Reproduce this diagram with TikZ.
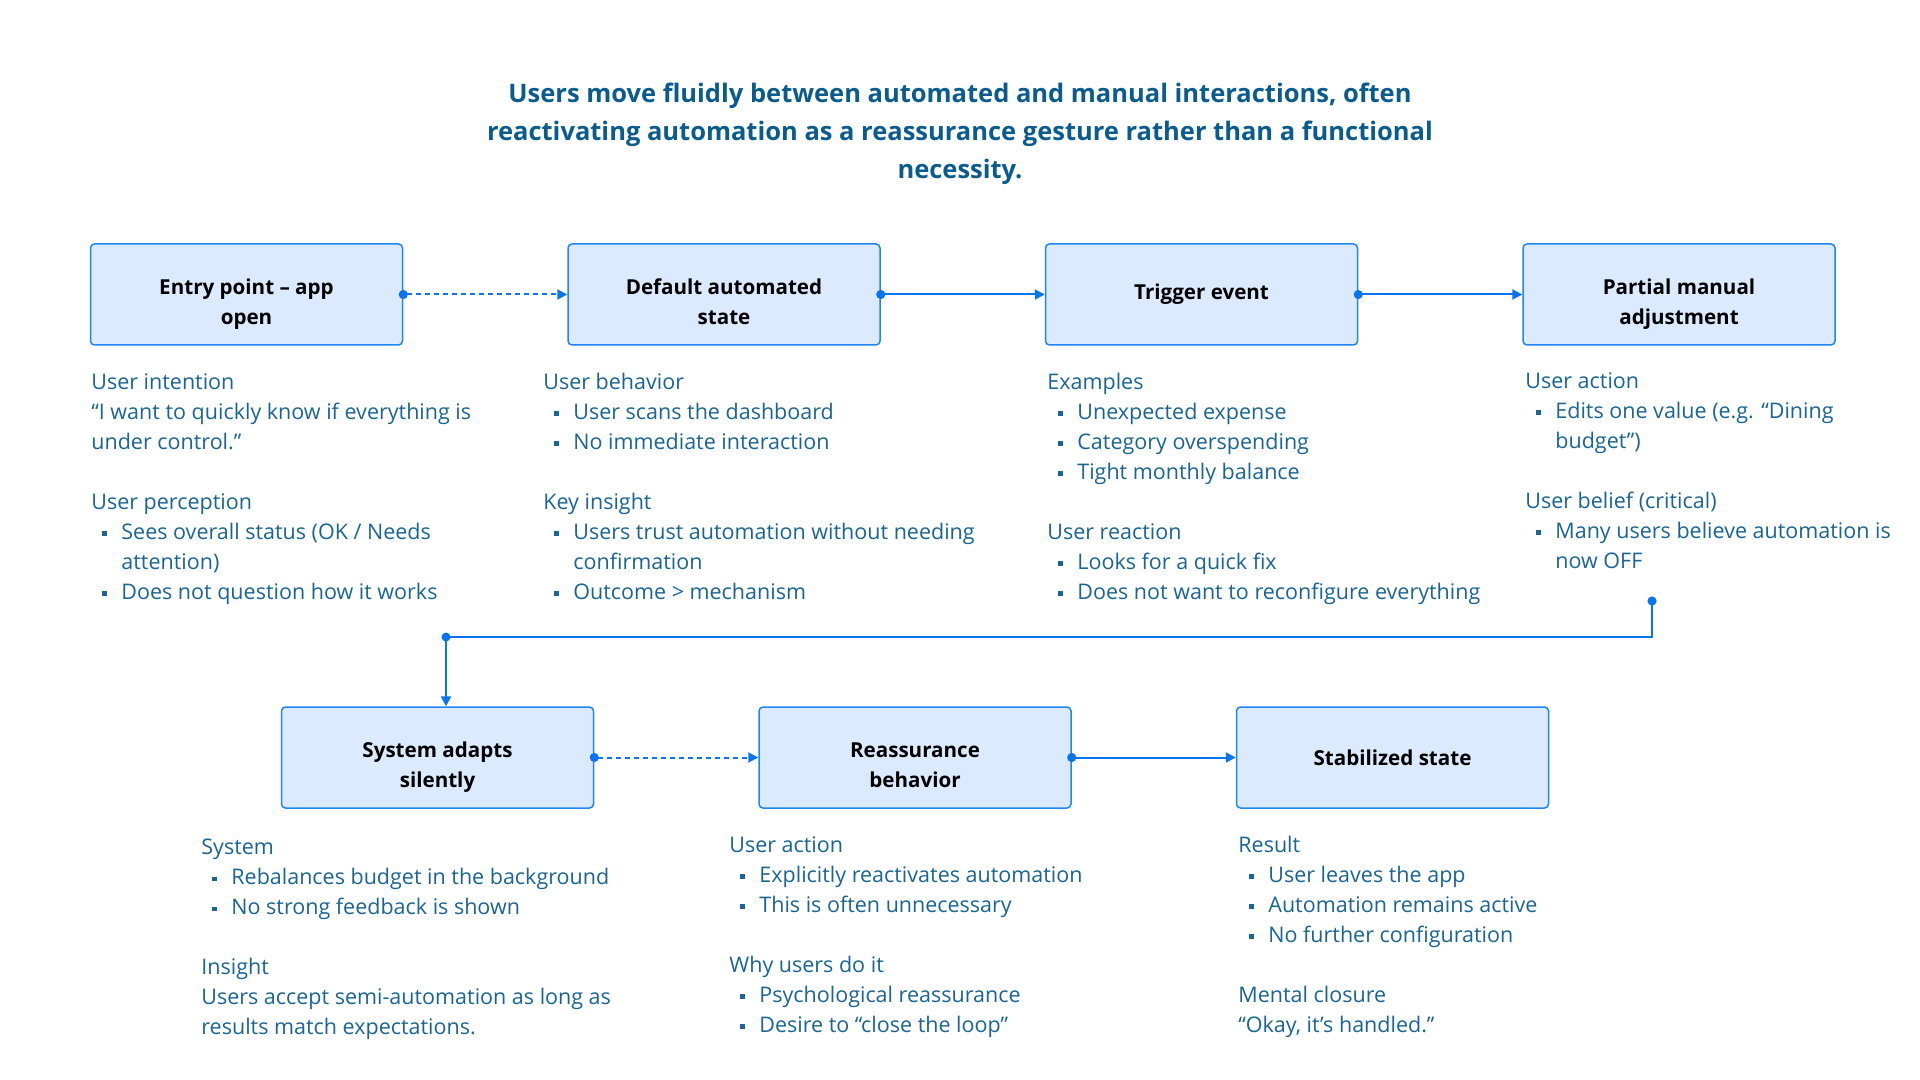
\documentclass[tikz,border=0pt]{standalone}
\usepackage{fontspec}
\setmainfont{Open Sans}
\usetikzlibrary{positioning}
\usetikzlibrary{arrows.meta}

\definecolor{headblue}{HTML}{0B5C8E}
\definecolor{noteblue}{HTML}{1B6592}
\definecolor{boxfill}{HTML}{DBEAFE}
\definecolor{boxline}{HTML}{2186F2}
\definecolor{linkblue}{HTML}{0A74F0}

\newcommand{\bul}{\makebox[15pt][l]{\hspace{5.5pt}\rule[1.8pt]{2.4pt}{2.4pt}}}
\newcommand{\cont}{\hspace*{15pt}}
\newcommand{\hi}{\rule{0pt}{18pt}}
\newcommand{\lo}{\rule[-3pt]{0pt}{3pt}}

\tikzset{
  stepbox/.style={draw=boxline, line width=0.75pt, fill=boxfill, rounded corners=2pt,
    minimum width=156pt, minimum height=50.5pt, align=center, text=black,
    font=\bfseries\fontsize{10.3}{15}\selectfont},
  note/.style={anchor=north west, inner sep=0pt, align=left, text=noteblue,
    font=\fontsize{10.75}{15}\selectfont},
  headline/.style={align=center, text=headblue, font=\bfseries\fontsize{12.75}{19}\selectfont},
  flow/.style={linkblue, line width=1pt,
    {Circle[length=4.5pt]}-{Triangle[length=5pt,width=5pt]}, shorten <=-2.25pt},
  quiet/.style={dash pattern=on 2.5pt off 2pt}
}

\begin{document}
\begin{tikzpicture}[x=0.5pt, y=-0.5pt]

  \fill[white] (0,0) rectangle (1920,1080);
  \useasboundingbox (0,0) rectangle (1920,1080);

  \node[headline] (title) at (960,134)
  {Users move fluidly between automated and manual interactions, often\\
   reactivating automation as a reassurance gesture rather than a functional\\
   necessity.};

  % first row of steps
  \node[stepbox] (entry) at (246.5,294.5) {\hi Entry point – app\\open\lo};
  \node[stepbox, right=82pt of entry] (default) {\hi Default automated\\state\lo};
  \node[stepbox, right=82pt of default] (trigger) {Trigger event};
  \node[stepbox, right=82pt of trigger] (partial) {\hi Partial manual\\adjustment\lo};

  % second row of steps
  \node[stepbox] (adapts) at (437.5,757.5) {\hi System adapts\\silently\lo};
  \node[stepbox, right=82pt of adapts] (reassure) {\hi Reassurance\\behavior\lo};
  \node[stepbox, right=82pt of reassure] (stable) {Stabilized state};

  % notes under each step
  \node[note] (entrynote) at (91,373)
  {User intention\\
   “I want to quickly know if everything is\\
   under control.”\\[15pt]
   User perception\\
   \bul Sees overall status (OK / Needs\\
   \cont attention)\\
   \bul Does not question how it works};

  \node[note] (defaultnote) at (543,373)
  {User behavior\\
   \bul User scans the dashboard\\
   \bul No immediate interaction\\[15pt]
   Key insight\\
   \bul Users trust automation without needing\\
   \cont confirmation\\
   \bul Outcome > mechanism};

  \node[note] (triggernote) at (1047,373)
  {Examples\\
   \bul Unexpected expense\\
   \bul Category overspending\\
   \bul Tight monthly balance\\[15pt]
   User reaction\\
   \bul Looks for a quick fix\\
   \bul Does not want to reconfigure everything};

  \node[note] (partialnote) at (1525,372)
  {User action\\
   \bul Edits one value (e.g. “Dining\\
   \cont budget”)\\[15pt]
   User belief (critical)\\
   \bul Many users believe automation is\\
   \cont now OFF};

  \node[note] (adaptsnote) at (201,839)
  {System\\
   \bul Rebalances budget in the background\\
   \bul No strong feedback is shown\\[15pt]
   Insight\\
   Users accept semi-automation as long as\\
   results match expectations.};

  \node[note] (reassurenote) at (729,836)
  {User action\\
   \bul Explicitly reactivates automation\\
   \bul This is often unnecessary\\[15pt]
   Why users do it\\
   \bul Psychological reassurance\\
   \bul Desire to “close the loop”};

  \node[note] (stablenote) at (1238,836)
  {Result\\
   \bul User leaves the app\\
   \bul Automation remains active\\
   \bul No further configuration\\[15pt]
   Mental closure\\
   “Okay, it’s handled.”};

  % connectors
  \draw[flow, quiet] (entry.east) -- (default.west);
  \draw[flow] (default.east) -- (trigger.west);
  \draw[flow] (trigger.east) -- (partial.west);

  \coordinate (loopstart) at (1652,601);
  \coordinate (loopbend) at (446,637);
  \draw[flow] (loopstart) |- (loopbend) -- (loopbend |- adapts.north);
  \fill[linkblue] (loopbend) circle (2.25pt);

  \draw[flow, quiet] (adapts.east) -- (reassure.west);
  \draw[flow] (reassure.east) -- (stable.west);

\end{tikzpicture}
\end{document}
